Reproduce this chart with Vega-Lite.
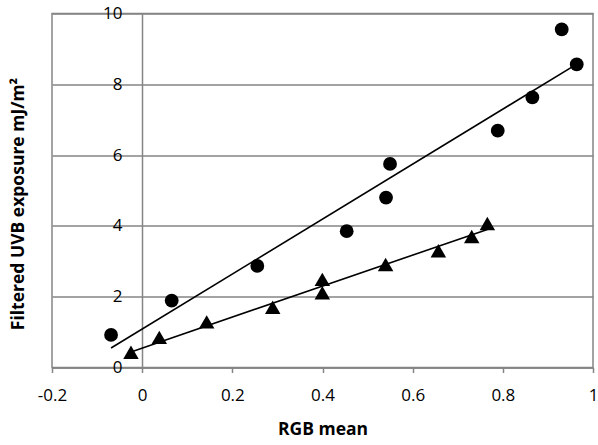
{
  "$schema": "https://vega.github.io/schema/vega-lite/v6.json",
  "width": 541,
  "height": 354,
  "autosize": "none",
  "padding": {"left": 52, "top": 13.5, "right": 5, "bottom": 77.5},
  "background": "white",
  "config": {"view": {"stroke": "#858585", "strokeWidth": 1.5}, "font": "Open Sans"},
  "datasets": {
    "points": [
      {"series": "filtered", "x": -0.069, "y": 0.92},
      {"series": "filtered", "x": 0.0655, "y": 1.89},
      {"series": "filtered", "x": 0.2554, "y": 2.87},
      {"series": "filtered", "x": 0.4537, "y": 3.85},
      {"series": "filtered", "x": 0.5409, "y": 4.80},
      {"series": "filtered", "x": 0.5498, "y": 5.75},
      {"series": "filtered", "x": 0.7887, "y": 6.69},
      {"series": "filtered", "x": 0.8655, "y": 7.63},
      {"series": "filtered", "x": 0.9306, "y": 9.55},
      {"series": "filtered", "x": 0.9639, "y": 8.56},
      {"series": "other", "x": -0.0248, "y": 0.43},
      {"series": "other", "x": 0.038, "y": 0.85},
      {"series": "other", "x": 0.1431, "y": 1.29},
      {"series": "other", "x": 0.2896, "y": 1.70},
      {"series": "other", "x": 0.3996, "y": 2.11},
      {"series": "other", "x": 0.3996, "y": 2.49},
      {"series": "other", "x": 0.540, "y": 2.91},
      {"series": "other", "x": 0.657, "y": 3.30},
      {"series": "other", "x": 0.731, "y": 3.70},
      {"series": "other", "x": 0.7657, "y": 4.07}
    ],
    "lines": [
      {"series": "filtered", "x": -0.069, "y": 0.55},
      {"series": "filtered", "x": 0.9639, "y": 8.57},
      {"series": "other", "x": -0.0248, "y": 0.44},
      {"series": "other", "x": 0.7657, "y": 3.90}
    ]
  },
  "layer": [
    {
      "data": {"name": "lines"},
      "mark": {"type": "line", "color": "black", "strokeWidth": 1.6},
      "encoding": {
        "x": {
          "field": "x", "type": "quantitative",
          "scale": {"domain": [-0.2, 1], "nice": false, "zero": false},
          "axis": {
            "values": [-0.2, 0, 0.2, 0.4, 0.6, 0.8, 1],
            "labelExpr": "replace(format(datum.value, '.1~f'), '\u2212', '-')",
            "grid": false,
            "domainColor": "#858585",
            "domainWidth": 1.5,
            "tickColor": "#858585",
            "tickWidth": 1.5,
            "tickSize": 5,
            "labelFontSize": 17,
            "labelColor": "black",
            "labelPadding": 15,
            "labelFlush": false,
            "title": "RGB mean",
            "titleFontSize": 17.5,
            "titleFontWeight": "bold",
            "titleColor": "black",
            "titleY": 67,
            "titleBaseline": "alphabetic"
          }
        },
        "y": {
          "field": "y", "type": "quantitative",
          "scale": {"domain": [0, 10], "nice": false},
          "axis": {
            "values": [0, 2, 4, 6, 8, 10],
            "format": "d",
            "offset": -90,
            "ticks": false,
            "labelPadding": 20,
            "grid": true,
            "gridColor": "#858585",
            "gridWidth": 1.5,
            "gridOpacity": 1,
            "domainColor": "#858585",
            "domainWidth": 1.5,
            "labelFontSize": 17,
            "labelColor": "black",
            "labelFlush": false,
            "labelOverlap": false,
            "title": "Filtered UVB exposure mJ/m²",
            "titleFontSize": 17.5,
            "titleFontWeight": "bold",
            "titleColor": "black",
            "titleX": -124,
            "titleY": 190,
            "titleAngle": -90,
            "titleAlign": "center",
            "titleBaseline": "middle"
          }
        },
        "detail": {"field": "series"}
      }
    },
    {
      "data": {"name": "points"},
      "mark": {"type": "point", "filled": true, "opacity": 1, "color": "black"},
      "encoding": {
        "x": {"field": "x", "type": "quantitative"},
        "y": {"field": "y", "type": "quantitative"},
        "shape": {
          "field": "series", "type": "nominal",
          "scale": {"domain": ["filtered", "other"], "range": ["circle", "triangle-up"]},
          "legend": null
        },
        "size": {
          "field": "series", "type": "nominal",
          "scale": {"domain": ["filtered", "other"], "range": [190, 240]},
          "legend": null
        }
      }
    }
  ]
}
